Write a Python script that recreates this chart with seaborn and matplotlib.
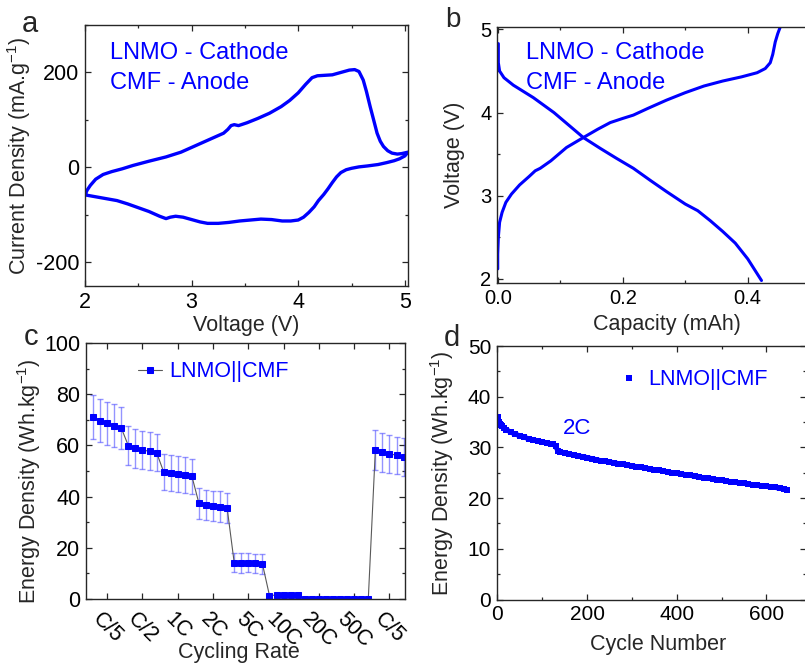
import numpy as np
import pandas as pd
import matplotlib
matplotlib.use("Agg")
import matplotlib.pyplot as plt
from matplotlib.lines import Line2D
from matplotlib.ticker import MultipleLocator, FormatStrFormatter
import seaborn as sns

# ---- panel a: cyclic voltammogram (closed loop) ----
cv_voltage = [2.00, 2.02, 2.05, 2.10, 2.17, 2.25, 2.35, 2.45, 2.60, 2.76, 2.90, 3.00,
              3.10, 3.22, 3.30, 3.34, 3.37, 3.40, 3.44, 3.52, 3.62, 3.73, 3.84, 3.92,
              4.00, 4.07, 4.13, 4.18, 4.25, 4.32, 4.40, 4.48, 4.53, 4.57, 4.61, 4.64,
              4.675, 4.71, 4.74, 4.77, 4.80, 4.84, 4.88, 4.93, 4.97, 5.03,
              5.00, 4.95, 4.90, 4.83, 4.75, 4.65, 4.57, 4.50, 4.45, 4.40, 4.36, 4.32,
              4.28, 4.24, 4.19, 4.15, 4.10, 4.05, 4.00, 3.93, 3.85, 3.75, 3.65, 3.55,
              3.45, 3.35, 3.25, 3.15, 3.08, 3.00, 2.92, 2.85, 2.80, 2.76, 2.70, 2.60,
              2.50, 2.40, 2.30, 2.20, 2.10, 2.00]
cv_current = [-58, -48, -38, -25, -15, -9, -3, 4, 13, 22, 32, 42,
              52, 64, 72, 80, 88, 90, 88, 94, 103, 114, 128, 141,
              157, 175, 189, 193, 194, 195, 200, 205, 206, 202, 184, 160,
              128, 98, 72, 55, 44, 35, 30, 28, 29, 32,
              24, 18, 14, 10, 6, 3, 1, -2, -5, -11, -20, -32,
              -45, -57, -70, -83, -95, -105, -111, -113, -113, -110, -109, -111,
              -113, -116, -118, -118, -115, -110, -105, -103, -105, -108, -103, -93,
              -85, -77, -70, -66, -62, -58]

# ---- panel b: charge / discharge profiles ----
dis_capacity = [0.001, 0.001, 0.003, 0.010, 0.025, 0.057, 0.090, 0.137, 0.164, 0.190,
                0.217, 0.245, 0.270, 0.300, 0.320, 0.340, 0.360, 0.380, 0.400, 0.422]
dis_voltage = [4.83, 4.60, 4.50, 4.42, 4.33, 4.18, 4.00, 3.70, 3.57, 3.45,
               3.33, 3.18, 3.05, 2.90, 2.82, 2.70, 2.57, 2.43, 2.24, 1.98]
chg_capacity = [0.000, 0.000, 0.001, 0.003, 0.007, 0.013, 0.022, 0.035, 0.050, 0.060,
                0.068, 0.085, 0.110, 0.137, 0.160, 0.180, 0.200, 0.217, 0.240, 0.270,
                0.300, 0.330, 0.360, 0.390, 0.415, 0.428, 0.436, 0.440, 0.444, 0.448, 0.452]
chg_voltage = [2.12, 2.30, 2.50, 2.68, 2.80, 2.92, 3.02, 3.13, 3.23, 3.30,
               3.33, 3.42, 3.58, 3.70, 3.80, 3.88, 3.93, 3.97, 4.05, 4.15,
               4.24, 4.32, 4.38, 4.43, 4.48, 4.53, 4.60, 4.70, 4.85, 4.95, 5.03]

# ---- panel c: rate capability ----
rate_labels = ["C/5", "C/2", "1C", "2C", "5C", "10C", "20C", "50C", "C/5"]
rate_energy = [71.1, 69.7, 68.6, 67.7, 66.8,
               59.9, 58.9, 58.2, 57.7, 57.2,
               49.7, 49.2, 48.8, 48.4, 48.0,
               37.4, 36.7, 36.3, 36.1, 35.5,
               14.2, 14.2, 14.1, 13.9, 13.7,
               1.3, 1.6, 1.7, 1.7, 1.7,
               0.1, 0.1, 0.1, 0.1, 0.1,
               0.1, 0.1, 0.1, 0.1, 0.1,
               58.2, 57.4, 56.8, 56.1, 55.6]
rate_error = [8.5, 8.4, 8.5, 8.4, 8.3,
              7.5, 7.6, 7.4, 7.5, 7.3,
              7.0, 7.0, 6.9, 6.9, 6.8,
              6.0, 6.0, 5.8, 5.9, 6.0,
              3.8, 3.9, 3.7, 3.8, 3.9,
              0.3, 0.3, 0.3, 0.3, 0.3,
              0, 0, 0, 0, 0,
              0, 0, 0, 0, 0,
              7.8, 7.6, 7.4, 7.3, 7.4]

# ---- panel d: long cycling at 2C ----
cycle_no = [1, 2, 4, 6, 8, 10, 15, 20, 30, 40, 50, 60, 70, 80, 90, 100, 110, 120, 125,
            130, 135, 140, 150, 160, 170, 180, 190, 200, 210, 220, 230, 240, 250, 260,
            270, 280, 290, 300, 310, 320, 330, 340, 350, 360, 370, 380, 390, 400, 410,
            420, 430, 440, 450, 460, 470, 480, 490, 500, 510, 520, 530, 540, 550, 560,
            570, 580, 590, 600, 610, 620, 630, 640, 645]
cycle_energy = [36.0, 35.6, 35.1, 34.7, 34.4, 34.2, 33.8, 33.5, 33.0, 32.6, 32.3, 32.0,
                31.7, 31.5, 31.3, 31.1, 30.9, 30.7, 30.6, 30.2, 29.3, 29.1, 28.9, 28.7,
                28.5, 28.3, 28.2, 28.0, 27.8, 27.6, 27.4, 27.3, 27.1, 27.0, 26.8, 26.7,
                26.5, 26.4, 26.2, 26.1, 25.9, 25.8, 25.6, 25.5, 25.3, 25.2, 25.0, 24.9,
                24.8, 24.6, 24.5, 24.3, 24.1, 24.0, 23.9, 23.8, 23.6, 23.5, 23.4, 23.2,
                23.1, 23.0, 22.9, 22.8, 22.6, 22.5, 22.4, 22.3, 22.2, 22.1, 21.9, 21.8, 21.6]

sns.set_style("ticks")
plt.rcParams["font.family"] = ["Liberation Sans", "DejaVu Sans"]
plt.rcParams["mathtext.default"] = "regular"
plt.rcParams["axes.unicode_minus"] = False
plt.rcParams["axes.linewidth"] = 1.0
plt.rcParams["axes.edgecolor"] = "0.15"

BLUE = "#0000ff"
W, H = 805, 665
fig = plt.figure(figsize=(W / 100, H / 100), dpi=100)


def px_axes(left, top, right, bottom):
    return fig.add_axes([left / W, 1 - bottom / H, (right - left) / W, (bottom - top) / H])


def style_ticks(ax, size):
    ax.tick_params(which="both", direction="in", top=True, right=True,
                   labelsize=size, colors="0.15", labelcolor="black", pad=4)
    ax.tick_params(which="major", length=4, width=0.9)
    ax.tick_params(which="minor", length=2.5, width=0.9)


ax_a = px_axes(85, 25, 408, 286)
ax_b = px_axes(497.1, 27, 841.5, 283)
ax_c = px_axes(86, 343, 405, 599)
ax_d = px_axes(496.7, 346, 805.9, 599.5)

# a
sns.lineplot(x=cv_voltage, y=cv_current, sort=False, estimator=None,
             color=BLUE, linewidth=2.4, ax=ax_a)
ax_a.set_xlim(2, 5.03)
ax_a.set_ylim(-250, 300)
ax_a.xaxis.set_major_locator(MultipleLocator(1))
ax_a.xaxis.set_minor_locator(MultipleLocator(0.5))
ax_a.yaxis.set_major_locator(MultipleLocator(200))
ax_a.yaxis.set_minor_locator(MultipleLocator(100))
style_ticks(ax_a, 15.5)
ax_a.set_xlabel("Voltage (V)", fontsize=15.5)
ax_a.set_ylabel("Current Density (mA.g$^{-1}$)", fontsize=15.5)
ax_a.xaxis.set_label_coords(0.5, -0.11)
ax_a.yaxis.set_label_coords(-0.16, 0.5)
ax_a.text(0.077, 0.893, "LNMO - Cathode", color=BLUE, fontsize=17,
          transform=ax_a.transAxes, va="center")
ax_a.text(0.077, 0.778, "CMF - Anode", color=BLUE, fontsize=17,
          transform=ax_a.transAxes, va="center")

# b
sns.lineplot(x=dis_capacity, y=dis_voltage, sort=False, estimator=None,
             color=BLUE, linewidth=2.2, ax=ax_b)
sns.lineplot(x=chg_capacity, y=chg_voltage, sort=False, estimator=None,
             color=BLUE, linewidth=2.2, ax=ax_b)
ax_b.set_xlim(-0.001, 0.55)
ax_b.set_ylim(1.95, 5.03)
ax_b.xaxis.set_major_locator(MultipleLocator(0.2))
ax_b.xaxis.set_minor_locator(MultipleLocator(0.1))
ax_b.xaxis.set_major_formatter(FormatStrFormatter("%.1f"))
ax_b.yaxis.set_major_locator(MultipleLocator(1))
ax_b.yaxis.set_minor_locator(MultipleLocator(0.5))
style_ticks(ax_b, 14.5)
ax_b.set_xlabel("Capacity (mAh)", fontsize=15.5)
ax_b.set_ylabel("Voltage (V)", fontsize=15.5)
ax_b.xaxis.set_label_coords(0.492, -0.12)
ax_b.yaxis.set_label_coords(-0.093, 0.5)
ax_b.text(0.084, 0.898, "LNMO - Cathode", color=BLUE, fontsize=17,
          transform=ax_b.transAxes, va="center")
ax_b.text(0.084, 0.781, "CMF - Anode", color=BLUE, fontsize=17,
          transform=ax_b.transAxes, va="center")

# c
step_idx = np.arange(1, len(rate_energy) + 1)
ax_c.errorbar(step_idx, rate_energy, yerr=rate_error, fmt="none",
              ecolor=(0.3, 0.3, 1.0, 0.6), elinewidth=1.0, capsize=2.5, capthick=1.0)
sns.lineplot(x=step_idx, y=rate_energy, color="0.35", linewidth=0.8,
             marker="s", markersize=4, markerfacecolor=BLUE, markeredgecolor=BLUE,
             label="LNMO||CMF", ax=ax_c)
ax_c.set_xlim(0, 45.2)
ax_c.set_ylim(0, 100)
ax_c.set_xticks(step_idx[2::5])
ax_c.set_xticklabels(rate_labels, rotation=-45)
ax_c.yaxis.set_major_locator(MultipleLocator(20))
ax_c.yaxis.set_minor_locator(MultipleLocator(10))
style_ticks(ax_c, 15.5)
ax_c.tick_params(axis="x", labelsize=15.5, pad=7)
ax_c.set_xlabel("Cycling Rate", fontsize=15.5)
ax_c.set_ylabel("Energy Density (Wh.kg$^{-1}$)", fontsize=15.5)
ax_c.xaxis.set_label_coords(0.48, -0.168)
ax_c.yaxis.set_label_coords(-0.135, 0.459)
ax_c.legend(loc="center left", bbox_to_anchor=(0.162, 0.888), frameon=False,
            borderpad=0, borderaxespad=0, handlelength=1.15, handletextpad=0.3,
            fontsize=15.5, labelcolor=BLUE)

# d : dense square markers forming a band
sns.lineplot(x=cycle_no, y=cycle_energy, color=BLUE, linewidth=3.6,
             marker="s", markersize=4.2, markeredgewidth=0, ax=ax_d)
ax_d.set_xlim(-1.5, 688)
ax_d.set_ylim(0, 50)
ax_d.xaxis.set_major_locator(MultipleLocator(200))
ax_d.xaxis.set_minor_locator(MultipleLocator(100))
ax_d.yaxis.set_major_locator(MultipleLocator(10))
ax_d.yaxis.set_minor_locator(MultipleLocator(5))
style_ticks(ax_d, 15)
ax_d.set_xlabel("Cycle Number", fontsize=15.5)
ax_d.set_ylabel("Energy Density (Wh.kg$^{-1}$)", fontsize=15.5)
ax_d.xaxis.set_label_coords(0.522, -0.135)
ax_d.yaxis.set_label_coords(-0.132, 0.5)
ax_d.text(178, 33.8, "2C", color=BLUE, fontsize=16, ha="center", va="center")
marker_handle = Line2D([], [], linestyle="", marker="s", markersize=4.5,
                       color=BLUE, markeredgewidth=0)
ax_d.legend([marker_handle], ["LNMO||CMF"], loc="center left",
            bbox_to_anchor=(0.392, 0.866), frameon=False,
            borderpad=0, borderaxespad=0, handlelength=1.0, handletextpad=0.4,
            fontsize=15.5, labelcolor=BLUE)

# panel letters
fig.text(22 / W, 1 - 32 / H, "a", fontsize=21, va="baseline")
fig.text(445 / W, 1 - 27 / H, "b", fontsize=20, va="baseline")
fig.text(24 / W, 1 - 345 / H, "c", fontsize=21, va="baseline")
fig.text(444 / W, 1 - 346 / H, "d", fontsize=21, va="baseline")

fig.savefig("out.png", dpi=100)
